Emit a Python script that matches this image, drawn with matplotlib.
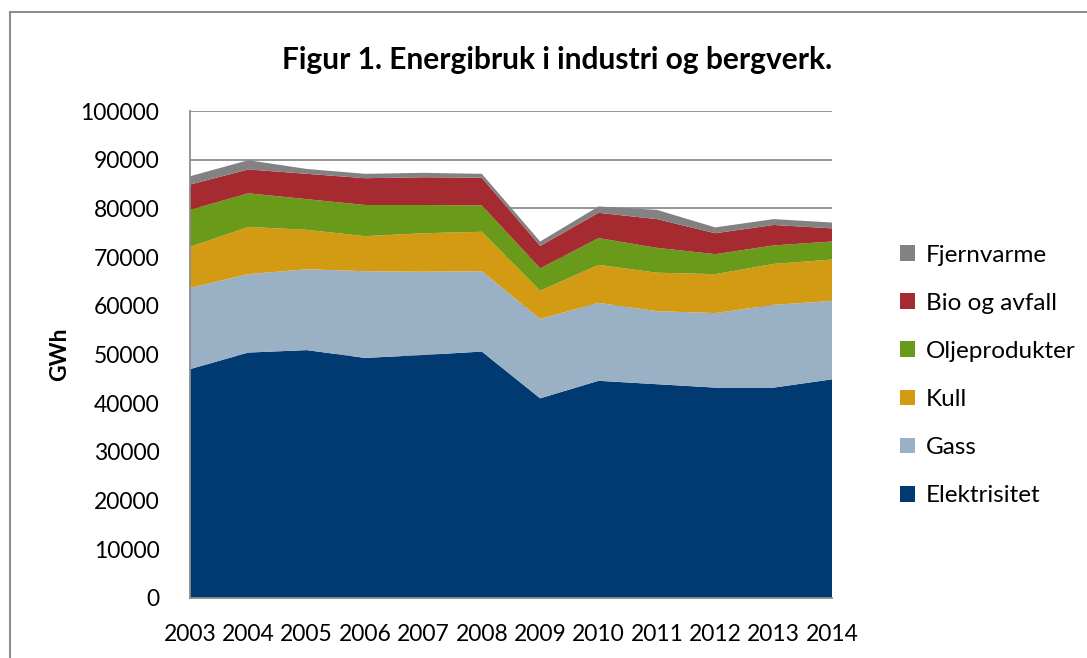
import matplotlib
matplotlib.use('Agg')
import matplotlib.pyplot as plt
from matplotlib.patches import Patch, Rectangle

plt.rcParams['font.family'] = ['Lato', 'DejaVu Sans']

# Data (GWh per layer)
years = [2003, 2004, 2005, 2006, 2007, 2008, 2009, 2010, 2011, 2012, 2013, 2014]
elektrisitet = [47000, 50400, 50900, 49300, 49900, 50600, 41000, 44600, 43900, 43200, 43200, 44900]
gass = [16700, 16100, 16600, 17800, 17100, 16500, 16300, 16000, 15000, 15300, 17000, 16100]
kull = [8400, 9700, 8100, 7200, 7900, 8100, 5800, 7800, 7900, 8000, 8400, 8500]
oljeprodukter = [7600, 6900, 6300, 6400, 5800, 5400, 4600, 5500, 5100, 4100, 3800, 3700]
bio_avfall = [5200, 4900, 5200, 5500, 5700, 5700, 4600, 5200, 5900, 4300, 4200, 2700]
fjernvarme = [1700, 1900, 1000, 900, 900, 800, 900, 1300, 1900, 1200, 1200, 1200]

labels = ['Elektrisitet', 'Gass', 'Kull', 'Oljeprodukter', 'Bio og avfall', 'Fjernvarme']
colors = ['#003A70', '#9AB0C4', '#D39B14', '#6A9A1A', '#A52B31', '#828282']

fig = plt.figure(figsize=(10.87, 6.58), dpi=100)
ax = fig.add_axes([190 / 1087, 60 / 658, 642 / 1087, 487 / 658])

ax.stackplot(years, elektrisitet, gass, kull, oljeprodukter, bio_avfall, fjernvarme,
             colors=colors, linewidth=0, zorder=2)

ax.set_xlim(2003, 2014)
ax.set_ylim(0, 100000)
ax.set_yticks(range(0, 100001, 10000))
ax.set_xticks(years)
ax.yaxis.grid(True, color='#8c8c8c', linewidth=1.3, zorder=0)
ax.set_axisbelow(True)
ax.tick_params(axis='both', length=0, labelsize=16.5, colors='black')
ax.tick_params(axis='x', pad=19)
ax.tick_params(axis='y', pad=22)
for s in ['top', 'right']:
    ax.spines[s].set_visible(False)
for s in ['left', 'bottom']:
    ax.spines[s].set_color('#8c8c8c')
    ax.spines[s].set_linewidth(1.3)

ax.set_ylabel('GWh', fontsize=16.5, fontweight='bold')
ax.yaxis.set_label_coords(-0.187, 0.5)

fig.text(557 / 1087, 1 - 60 / 658, 'Figur 1. Energibruk i industri og bergverk.',
         ha='center', va='center', fontsize=21.5, fontweight='bold')

handles = [Patch(facecolor=c, edgecolor='none') for c in colors[::-1]]
fig.legend(handles, labels[::-1], loc='upper left', bbox_to_anchor=(890 / 1087, 1 - 235 / 658),
           frameon=False, fontsize=17.5, handlelength=0.62, handleheight=0.62,
           handletextpad=0.45, labelspacing=1.115, borderaxespad=0)

# outer chart frame
fig.patches.append(Rectangle((10 / 1087, -0.1), 1.2, 1 - 12 / 658 + 0.1,
                             transform=fig.transFigure, fill=False,
                             edgecolor='#8c8c8c', linewidth=1.5))

fig.savefig('out.png', dpi=100)
